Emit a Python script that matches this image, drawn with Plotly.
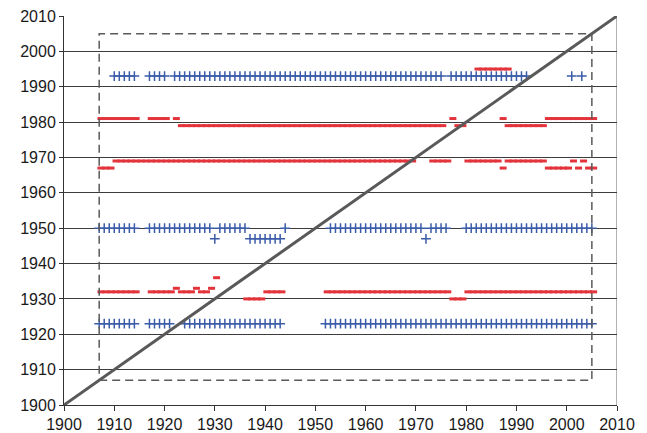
import plotly.graph_objects as go

# Observed years, grouped by the level (year) they sit on.
# Each entry is a run of consecutive years: (first, last).
blue_levels = [1993, 1950, 1947, 1923]
blue_runs = [
    [(1910, 1914), (1917, 1920), (1922, 1975), (1977, 1992), (2001, 2001), (2003, 2003)],
    [(1907, 1914), (1917, 1929), (1931, 1936), (1944, 1944), (1953, 1971), (1973, 1976), (1980, 2005)],
    [(1930, 1930), (1937, 1943), (1972, 1972)],
    [(1907, 1914), (1917, 1921), (1924, 1943), (1952, 2005)],
]

red_levels = [1995, 1981, 1979, 1969, 1967, 1936, 1933, 1932, 1930]
red_runs = [
    [(1982, 1988)],
    [(1907, 1914), (1917, 1920), (1922, 1922), (1977, 1977), (1987, 1987), (1996, 2005)],
    [(1923, 1975), (1978, 1979), (1988, 1995)],
    [(1910, 1969), (1973, 1976), (1980, 1986), (1988, 1995), (2001, 2001), (2003, 2003)],
    [(1907, 1909), (1987, 1987), (1996, 2000), (2002, 2002), (2004, 2005)],
    [(1930, 1930)],
    [(1922, 1922), (1926, 1926), (1929, 1929)],
    [(1907, 1914), (1917, 1921), (1923, 1925), (1927, 1928), (1940, 1943), (1952, 1976), (1980, 2005)],
    [(1936, 1939), (1977, 1979)],
]

axis_range = [1900, 2010]
window = [1907, 2005]
tick_years = list(range(1900, 2011, 10))


def expand(levels, runs):
    xs, ys = [], []
    for level, spans in zip(levels, runs):
        for a, b in spans:
            for yr in range(a, b + 1):
                xs.append(yr)
                ys.append(level)
    return xs, ys


bx, by = expand(blue_levels, blue_runs)
rx, ry = expand(red_levels, red_runs)
red_shift = 0.35  # dashes sit a little into each year

fig = go.Figure()

fig.add_trace(go.Scatter(
    x=[v + red_shift for v in rx], y=ry, mode="markers",
    marker=dict(symbol="line-ew", size=5,
                line=dict(color="#e3343c", width=3)),
    hoverinfo="skip", showlegend=False,
))

fig.add_trace(go.Scatter(
    x=bx, y=by, mode="markers",
    marker=dict(symbol="cross-thin", size=7,
                line=dict(color="#3b5ca8", width=1.5)),
    hoverinfo="skip", showlegend=False,
))

# y = x reference line
fig.add_trace(go.Scatter(
    x=axis_range, y=axis_range, mode="lines",
    line=dict(color="#595959", width=3),
    hoverinfo="skip", showlegend=False,
))

# dashed window
fig.add_shape(type="rect", xref="x", yref="y",
              x0=window[0], x1=window[1], y0=window[0], y1=window[1],
              line=dict(color="#5a5a5a", width=1.5, dash="8px,5px"),
              layer="above")

# right border of the plot area
fig.add_shape(type="line", xref="x", yref="y",
              x0=axis_range[1], x1=axis_range[1], y0=axis_range[0], y1=axis_range[1],
              line=dict(color="#9a9a9a", width=1.5), layer="below")

font = dict(family="Liberation Sans, Arial, sans-serif", size=16, color="#1a1a1a")

fig.update_layout(
    width=647, height=433,
    margin=dict(l=64, r=30, t=16, b=28),
    plot_bgcolor="white", paper_bgcolor="white",
    font=font,
    xaxis=dict(range=axis_range, tickvals=tick_years,
               ticktext=[str(t) for t in tick_years],
               showgrid=False, zeroline=False, automargin=False,
               showline=True, linecolor="#333333", linewidth=1,
               ticks="outside", ticklen=5, tickcolor="#333333",
               tickfont=font),
    yaxis=dict(range=axis_range, tickvals=tick_years,
               ticktext=[str(t) for t in tick_years],
               showgrid=True, gridcolor="#3c3c3c", gridwidth=1,
               zeroline=False, automargin=False,
               showline=True, linecolor="#333333", linewidth=1,
               ticks="outside", ticklen=4, tickcolor="#333333",
               tickfont=font),
)

fig.write_html("out.html")
